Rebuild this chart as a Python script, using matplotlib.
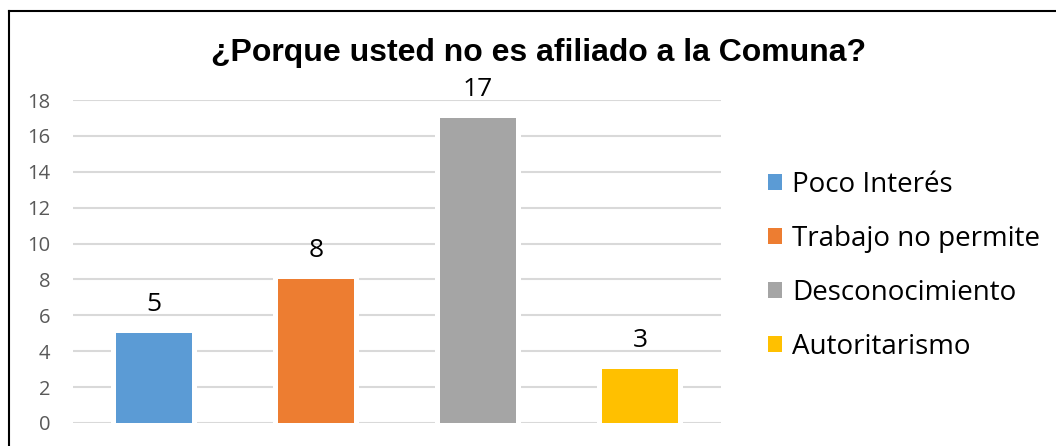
import matplotlib
matplotlib.use("Agg")
import matplotlib.pyplot as plt
from matplotlib.patches import Patch
from matplotlib.lines import Line2D

categories = ["Poco Interés", "Trabajo no permite", "Desconocimiento", "Autoritarismo"]
values = [5, 8, 17, 3]
colors = ["#5b9bd5", "#ed7d31", "#a5a5a5", "#ffc000"]
yticks = [0, 2, 4, 6, 8, 10, 12, 14, 16, 18]
title = "¿Porque usted no es afiliado a la Comuna?"

W, H = 1056, 446
fig = plt.figure(figsize=(W / 100, H / 100), dpi=100)
ax = fig.add_axes([73 / W, 1 - 423 / H, (721 - 73) / W, (423 - 100) / H])

x = list(range(len(categories)))
bw = 0.475
# white halo behind bars to break gridlines
ax.bar(x, [v + 0.25 for v in values], width=bw + 0.055, color="white", zorder=2, bottom=-0.1)
bars = ax.bar(x, values, width=bw, color=colors, zorder=3)

for xi, v in zip(x, values):
    ax.annotate(str(v), (xi, v), xytext=(0, 11.5), textcoords="offset points",
                ha="center", va="bottom", fontsize=19, family="Open Sans", color="black")

ax.set_xlim(-0.5, len(categories) - 0.5)
ax.set_ylim(0, 18)
ax.set_yticks(yticks)
ax.set_yticklabels([str(t) for t in yticks], fontsize=14.5, family="Open Sans", color="#595959")
ax.set_xticks([])
ax.yaxis.grid(True, color="#d9d9d9", linewidth=1.5, zorder=1)
ax.set_axisbelow(True)
ax.tick_params(axis="y", length=0, pad=16.5)
for s in ax.spines.values():
    s.set_visible(False)

fig.text(0.5 * (213 + 864) / W, 1 - 53 / H, title, ha="center", va="center",
         fontsize=23, fontweight="bold", family="Liberation Sans", color="black")

handles = [Patch(facecolor=c, edgecolor="none") for c in colors]
leg = fig.legend(handles, categories, loc="center left", bbox_to_anchor=(743 / W, 1 - 266 / H),
                 frameon=False, prop={"family": "Open Sans", "size": 20},
                 handlelength=0.5, handleheight=0.5, handletextpad=0.38, labelspacing=0.94)

# figure border (top and left visible)
fig.add_artist(Line2D([9 / W, 9 / W], [0, 1 - 11 / H], color="black", linewidth=1.5, transform=fig.transFigure))
fig.add_artist(Line2D([9 / W, 1], [1 - 11 / H, 1 - 11 / H], color="black", linewidth=1.5, transform=fig.transFigure))

fig.savefig("out.png", dpi=100)
